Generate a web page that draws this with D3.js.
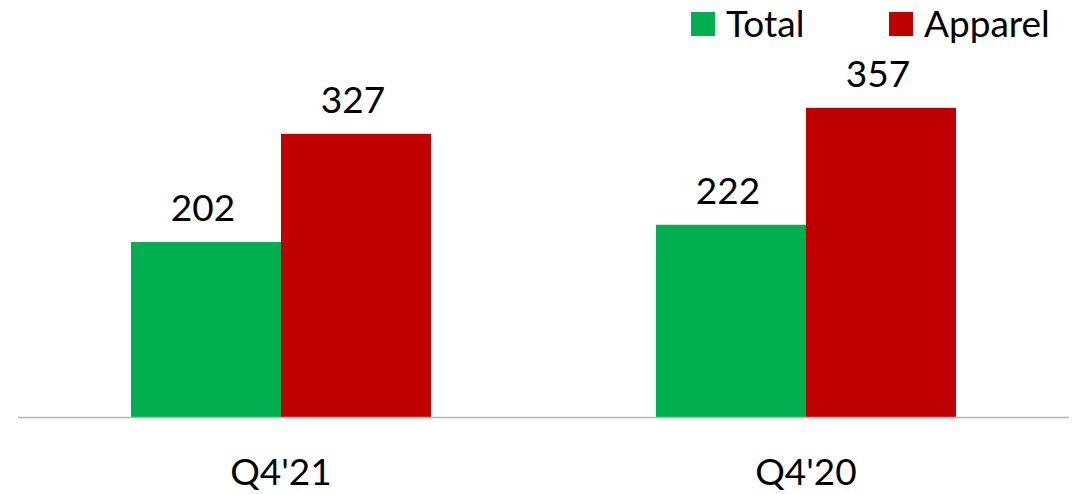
<!DOCTYPE html>
<html><head><meta charset="utf-8">
<script src="https://cdn.jsdelivr.net/npm/d3@7"></script>
<style>body{margin:0;background:#fff}svg{display:block}text{font-family:Lato,"Open Sans",sans-serif;fill:#000}</style>
</head><body><svg id="c" width="1089" height="494"></svg>
<script>
const categories = ["Q4'21", "Q4'20"];
const seriesNames = ["Total", "Apparel"];
const totalValues = [202, 222];
const apparelValues = [327, 357];
const colors = ["#00B050", "#C00000"];

const svg = d3.select("#c");
const W = 1089, baseY = 417;
const x0 = d3.scaleBand().domain(categories).range([18.5, 1068.5]).paddingInner(0.4286).paddingOuter(0.2143);
const x1 = d3.scaleBand().domain(seriesNames).range([0, x0.bandwidth()]);
const y = d3.scaleLinear().domain([0, 400]).range([baseY, baseY - 346.4]);

const data = categories.map((c, i) => ({cat: c, vals: [totalValues[i], apparelValues[i]]}));
const g = svg.selectAll("g.cat").data(data).join("g").attr("transform", d => `translate(${x0(d.cat)},0)`);
g.selectAll("rect").data(d => d.vals.map((v, j) => ({s: seriesNames[j], v, j}))).join("rect")
  .attr("x", d => x1(d.s)).attr("width", x1.bandwidth())
  .attr("y", d => y(d.v)).attr("height", d => y(0) - y(d.v))
  .attr("fill", d => colors[d.j]);
g.selectAll("text.lbl").data(d => d.vals.map((v, j) => ({s: seriesNames[j], v, j}))).join("text")
  .attr("class", "lbl")
  .attr("x", d => x1(d.s) + x1.bandwidth() / 2 - 3).attr("y", d => y(d.v) - 21)
  .attr("text-anchor", "middle").style("font-size", "37px").text(d => d.v);

svg.append("line").attr("x1", 18).attr("x2", 1069).attr("y1", baseY + 0.5).attr("y2", baseY + 0.5)
  .attr("stroke", "#B3B3B3").attr("stroke-width", 1.5);

const xAxis = svg.append("g").attr("transform", `translate(0,${baseY})`)
  .call(d3.axisBottom(x0).tickSize(0).tickPadding(0));
xAxis.select(".domain").remove();
xAxis.selectAll("text").attr("dy", null).attr("y", 68).style("font-size", "37px").style("font-family", "Lato,'Open Sans',sans-serif").attr("fill", "#000");

const legX = [691, 889];
const leg = svg.selectAll("g.leg").data(seriesNames).join("g").attr("transform", (d, i) => `translate(${legX[i]},12)`);
leg.append("rect").attr("width", 24).attr("height", 24).attr("fill", (d, i) => colors[i]);
leg.append("text").attr("x", 35).attr("y", 24.5).style("font-size", "37px").text(d => d);
</script></body></html>
